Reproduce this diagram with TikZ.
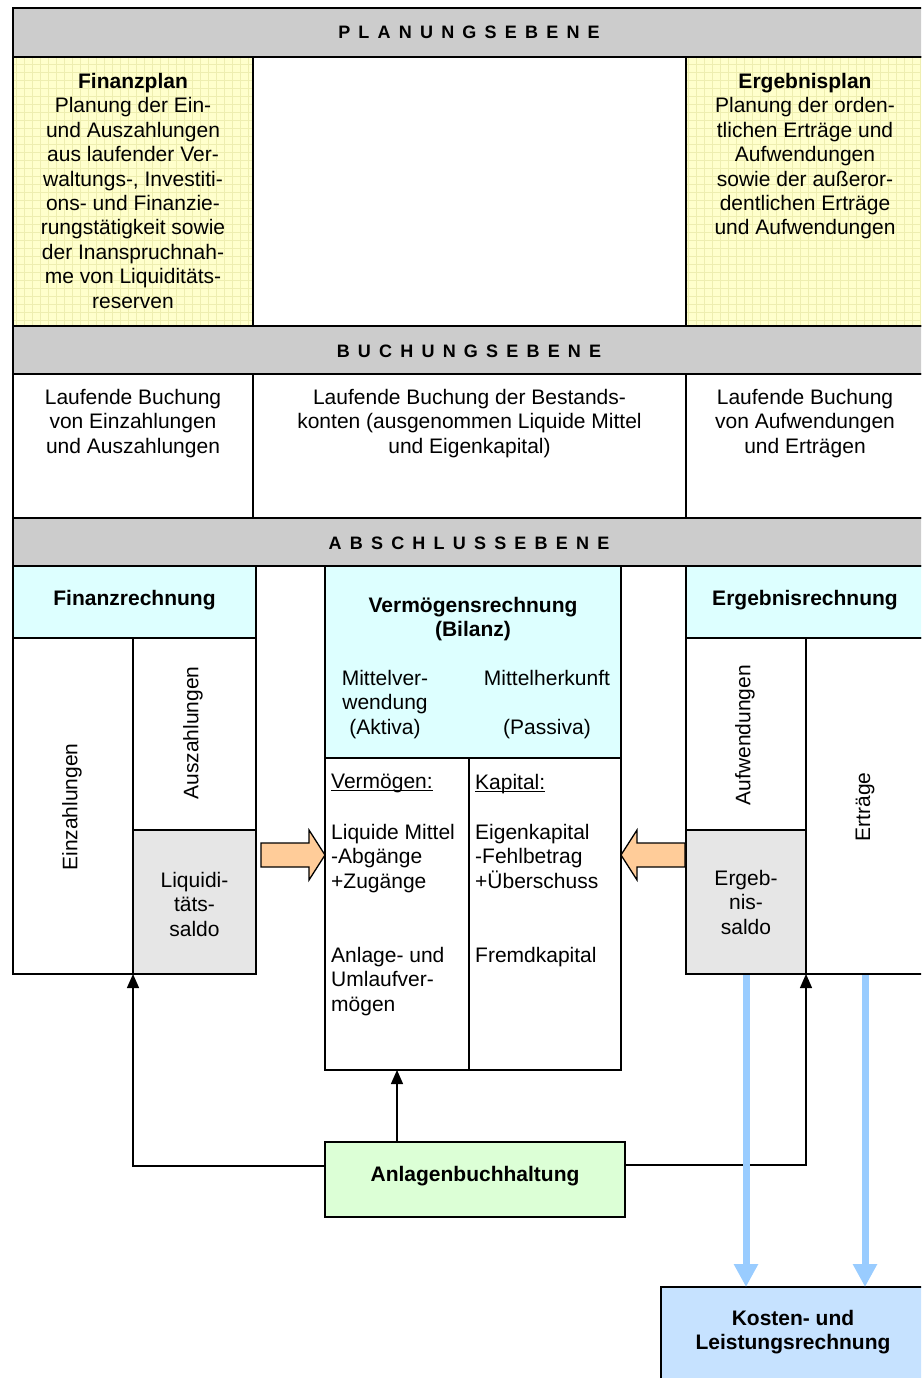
\documentclass[tikz,border=0pt]{standalone}
\usepackage{fontspec}
\setmainfont{Liberation Sans}
\usetikzlibrary{fit,arrows.meta}
\definecolor{bargray}{HTML}{CCCCCC}
\definecolor{planyellow}{HTML}{FFFFCC}
\definecolor{gridyellow}{HTML}{EEEEB0}
\definecolor{headcyan}{HTML}{DDFFFF}
\definecolor{saldogray}{HTML}{E6E6E6}
\definecolor{arroworange}{HTML}{FFCC99}
\definecolor{anlgreen}{HTML}{DCFFD6}
\definecolor{klrblue}{HTML}{C6E2FF}
\definecolor{flowblue}{HTML}{99CCFF}
\makeatletter
\newcommand\spreadletters[1]{\def\sl@sep{}\@tfor\sl@c:=#1\do{\sl@sep\sl@c\def\sl@sep{\hspace{8.2pt}}}}
\makeatother
\newcommand\myul[1]{\setbox0\hbox{#1}\rlap{\rule[-2.5pt]{\wd0}{1.1pt}}\box0}
\begin{document}
\begin{tikzpicture}[x=1pt,y=-1pt,
  font=\fontsize{21}{24.4}\selectfont,
  boxx/.style={draw, line width=1.5pt, inner sep=0pt, outer sep=0pt},
  txt/.style={inner sep=0pt, align=center},
  ltxt/.style={inner sep=0pt, align=left, anchor=north west},
  bartxt/.style={inner sep=0pt, anchor=base, font=\fontsize{18}{20}\selectfont\bfseries},
  conn/.style={draw, line width=1.3pt, -{Triangle[length=14pt,width=12pt]}},
  flow/.style={draw=flowblue, line width=7pt, -{Triangle[length=23pt,width=23pt]}, shorten <=1pt},
  blockarrow/.style={draw, line width=1.3pt, fill=arroworange, line join=miter}]
\useasboundingbox (0,0) rectangle (921,1378);
\clip (0,0) rectangle (921,1378);

% ---------- Planungsebene ----------
\node[boxx, fill=bargray, fit={(13,8) (924,57)}] (bar1) {};
\node[bartxt] (bar1t) at (469,39) {\spreadletters{PLANUNGSEBENE}};
\node[boxx, fill=planyellow, fit={(13,57) (253,326)}] (fplan) {};
\node[boxx, fit={(253,57) (686,326)}] (pmid) {};
\node[boxx, fill=planyellow, fit={(686,57) (924,326)}] (eplan) {};
\draw[gridyellow, line width=0.5pt, step=8pt] (14,325) grid (252,58);
\draw[gridyellow, line width=0.5pt, step=8pt] (687,325) grid (921,58);
\node[boxx, fit={(13,57) (253,326)}] (fplanb) {};
\node[boxx, fit={(686,57) (924,326)}] (eplanb) {};
\node[txt, anchor=north] (fplant) at (133,73) {\textbf{Finanzplan}\\Planung der Ein-\\und Auszahlungen\\aus laufender Ver-\\waltungs-, Investiti-\\ons- und Finanzie-\\rungstätigkeit sowie\\der Inanspruchnah-\\me von Liquiditäts-\\reserven};
\node[txt, anchor=north] (eplant) at (805,73) {\textbf{Ergebnisplan}\\Planung der orden-\\tlichen Erträge und\\Aufwendungen\\sowie der außeror-\\dentlichen Erträge\\und Aufwendungen};

% ---------- Buchungsebene ----------
\node[boxx, fill=bargray, fit={(13,326) (924,374)}] (bar2) {};
\node[bartxt] (bar2t) at (469,357) {\spreadletters{BUCHUNGSEBENE}};
\node[boxx, fit={(13,374) (253,518)}] (b1) {};
\node[boxx, fit={(253,374) (686,518)}] (b2) {};
\node[boxx, fit={(686,374) (924,518)}] (b3) {};
\node[txt, anchor=north] (b1t) at (133,389) {Laufende Buchung\\von Einzahlungen\\und Auszahlungen};
\node[txt, anchor=north] (b2t) at (469.5,389) {Laufende Buchung der Bestands-\\konten (ausgenommen Liquide Mittel\\und Eigenkapital)};
\node[txt, anchor=north] (b3t) at (805,389) {Laufende Buchung\\von Aufwendungen\\und Erträgen};

% ---------- Abschlussebene ----------
\node[boxx, fill=bargray, fit={(13,518) (924,566)}] (bar3) {};
\node[bartxt] (bar3t) at (469,549) {\spreadletters{ABSCHLUSSEBENE}};

% Finanzrechnung
\node[boxx, fill=headcyan, fit={(13,566) (256,638)}] (frh) {};
\node[boxx, fit={(13,638) (133,974)}] (einz) {};
\node[boxx, fit={(133,638) (256,830)}] (ausz) {};
\node[boxx, fill=saldogray, fit={(133,830) (256,974)}] (liq) {};
\node[inner sep=0pt, anchor=base, font=\fontsize{21}{24.4}\selectfont\bfseries] (frht) at (134.5,605.5) {Finanzrechnung};
\node[inner sep=0pt, rotate=90] (einzt) at (72,807) {Einzahlungen};
\node[inner sep=0pt, rotate=90] (auszt) at (193,733) {Auszahlungen};
\node[txt, anchor=north] (liqt) at (194.5,872) {Liquidi-\\täts-\\saldo};

% Vermoegensrechnung
\node[boxx, fill=headcyan, fit={(325,566) (621,758)}] (vr) {};
\node[boxx, fit={(325,758) (469,1070)}] (vl) {};
\node[boxx, fit={(469,758) (621,1070)}] (vp) {};
\node[txt, anchor=north, font=\fontsize{21}{24.4}\selectfont\bfseries] (vrt) at (473,597) {Vermögensrechnung\\(Bilanz)};
\node[txt, anchor=north] (vrl) at (385,670) {Mittelver-\\wendung\\(Aktiva)};
\node[txt, anchor=north] (vrr) at (547,670) {Mittelherkunft\\\mbox{}\\(Passiva)};
\node[ltxt] (vl1) at (331,774) {\myul{Vermögen:}};
\node[ltxt] (vl2) at (331,824) {Liquide Mittel\\-Abgänge\\+Zugänge};
\node[ltxt] (vl3) at (331,947) {Anlage- und\\Umlaufver-\\mögen};
\node[ltxt] (vp1) at (475,774) {\myul{Kapital:}};
\node[ltxt] (vp2) at (475,824) {Eigenkapital\\-Fehlbetrag\\+Überschuss};
\node[ltxt] (vp3) at (475,947) {Fremdkapital};

% Ergebnisrechnung
\node[boxx, fill=headcyan, fit={(686,566) (924,638)}] (erh) {};
\node[boxx, fit={(686,638) (806,830)}] (aufw) {};
\node[boxx, fill=saldogray, fit={(686,830) (806,974)}] (esaldo) {};
\node[boxx, fit={(806,638) (924,974)}] (ertr) {};
\node[inner sep=0pt, anchor=base, font=\fontsize{21}{24.4}\selectfont\bfseries] (erht) at (805,605.5) {Ergebnisrechnung};
\node[inner sep=0pt, rotate=90] (aufwt) at (745,735) {Aufwendungen};
\node[inner sep=0pt, rotate=90] (ertrt) at (865,807) {Erträge};
\node[txt, anchor=north] (esaldot) at (746,870) {Ergeb-\\nis-\\saldo};

% block arrows
\draw[blockarrow] (261,843) -- (309,843) -- (309,830) -- (325,855) -- (309,880) -- (309,867) -- (261,867) -- cycle;
\draw[blockarrow] (685,843) -- (637,843) -- (637,830) -- (621,855) -- (637,880) -- (637,867) -- (685,867) -- cycle;

% Anlagenbuchhaltung
\node[boxx, fill=anlgreen, fit={(325,1142) (625,1217)}] (anl) {};
\node[inner sep=0pt, anchor=base, font=\fontsize{21}{24.4}\selectfont\bfseries] (anlt) at (475,1181.5) {Anlagenbuchhaltung};

% Kosten- und Leistungsrechnung
\node[boxx, fill=klrblue, fit={(661,1287) (924,1384)}] (kost) {};
\node[txt, anchor=north, font=\fontsize{21}{24.4}\selectfont\bfseries] (kostt) at (793,1310) {Kosten- und\\Leistungsrechnung};

% connectors
\draw[conn] (anl.north -| vl.south) -- (vl.south);
\draw[conn] ([yshift=13.5pt]anl.west) -| (liq.south west);
\draw[conn] ([yshift=14.5pt]anl.east) -| (esaldo.south east);
\draw[flow] (esaldo.south) -- (esaldo.south |- kost.north);
\draw[flow] (ertr.south) -- (ertr.south |- kost.north);
\end{tikzpicture}
\end{document}
